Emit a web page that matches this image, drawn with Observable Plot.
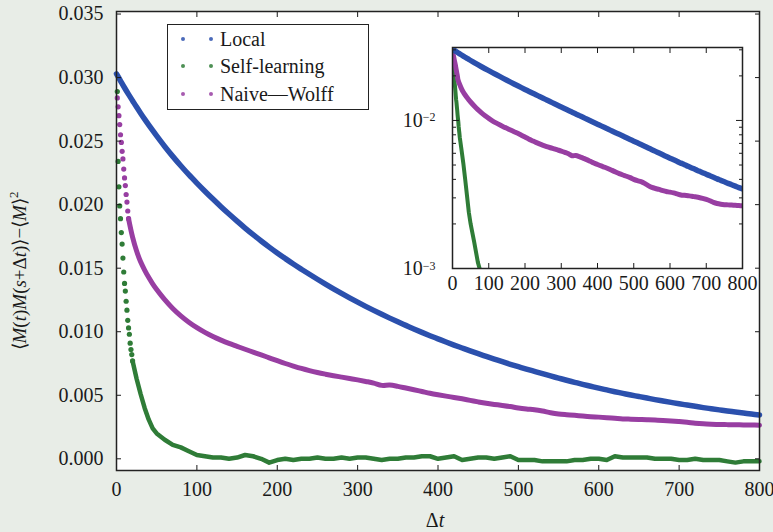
<!DOCTYPE html>
<html><head><meta charset="utf-8">
<script src="https://cdn.jsdelivr.net/npm/d3@7"></script>
<script src="https://cdn.jsdelivr.net/npm/@observablehq/plot@0.6"></script>
<style>
body{margin:0;background:#e8ede7;}
#wrap{position:relative;width:773px;height:532px;color:#1a1a1a;}
#main,#inset{position:absolute;}
#legend{position:absolute;left:167px;top:24px;width:200px;height:84px;border:1.5px solid #222;background:#fff;}
.lrow{position:absolute;left:0;height:26px;line-height:26px;font-size:20px;}
.ldot{position:absolute;width:4px;height:4px;border-radius:50%;top:11px;}
.ltxt{position:absolute;left:52px;top:0;white-space:nowrap;}
#wrap, #wrap *, #wrap svg text, #wrap svg tspan{font-family:"Liberation Serif" !important;}
</style></head><body><div id="wrap"><div id="main"></div><div id="inset"></div><div id="legend"></div></div>
<script>
// ---- data ----
const seriesNames = ["Local", "Self-learning", "Naive—Wolff"];
const seriesColors = ["#2b50ad", "#2f7c37", "#983ea2"];

const xTicks = [0, 100, 200, 300, 400, 500, 600, 700, 800];
const yTicks = [0, 0.005, 0.010, 0.015, 0.020, 0.025, 0.030, 0.035];
const insetYMajor = [0.001, 0.01];
const insetYMajorLabels = ["10", "10"];
const insetYMajorExp = ["−3", "−2"];
const insetYMinor = [0.002, 0.003, 0.004, 0.005, 0.006, 0.007, 0.008, 0.009, 0.02, 0.03];

// sparse early points (individual dots)
const tEarly = [1,2,3,4,5,6,7,8,9,10,11,12,13,14,15,16,17,18,19,20];
const selfEarly = [0.0289,0.0234,0.0214,0.0199,0.0189,0.0178,0.0169,0.0158,0.0147,0.0138,0.0132,0.0124,0.0117,0.0109,0.0103,0.0098,0.0091,0.0086,0.0082,0.0077];
const wolffEarly = [0.0284,0.0277,0.0270,0.0263,0.0255,0.0249,0.0242,0.0236,0.0228,0.0221,0.0215,0.0208,0.0202,0.0195,0.0189,null,null,null,null,null];

// dense part (drawn as a thick trace)
const tDense = [0,5,10,15,20,25,30,35,40,45,50,60,70,80,90,100,110,120,130,140,150,160,170,180,190,200,
  210,220,230,240,250,260,270,280,290,300,310,320,330,340,350,360,370,380,390,400,
  410,420,430,440,450,460,470,480,490,500,510,520,530,540,550,560,570,580,590,600,
  610,620,630,640,650,660,670,680,690,700,710,720,730,740,750,760,770,780,790,800];
const localDense = [0.03030,0.02975,0.02920,0.02868,0.02818,0.02768,0.02720,0.02673,0.02628,0.02584,0.02541,0.02458,0.02380,0.02306,0.02236,0.02170,0.02106,0.02044,0.01984,0.01926,0.01870,0.01816,0.01764,0.01714,0.01666,0.01620,
  0.01576,0.01533,0.01492,0.01452,0.01413,0.01375,0.01338,0.01302,0.01267,0.01233,0.01200,0.01168,0.01137,0.01107,0.01078,0.01050,0.01022,0.00995,0.00969,0.00944,
  0.00919,0.00895,0.00872,0.00849,0.00827,0.00806,0.00785,0.00764,0.00744,0.00725,0.00706,0.00688,0.00670,0.00652,0.00635,0.00618,0.00602,0.00586,0.00571,0.00556,
  0.00542,0.00528,0.00515,0.00502,0.00490,0.00478,0.00466,0.00455,0.00444,0.00433,0.00423,0.00413,0.00403,0.00394,0.00385,0.00376,0.00368,0.00360,0.00352,0.00345];
const selfDense = [null,null,null,null,0.0077,0.0063,0.0051,0.0040,0.0031,0.0024,0.0020,0.0015,0.0011,0.0009,0.0006,0.0003,0.0002,0.0001,0.0001,0.0000,0.0001,0.0003,0.0002,0.0000,-0.0003,-0.0001,
  0.0000,-0.0001,0.0000,0.0000,0.0001,0.0000,0.0000,0.0001,0.0000,0.0001,0.0001,0.0000,-0.0001,0.0000,0.0000,0.0001,0.0001,0.0002,0.0002,0.0000,
  0.0001,0.0002,-0.0001,0.0000,0.0001,0.0001,0.0000,0.0001,0.0002,-0.0001,-0.0001,-0.0001,-0.0002,-0.0002,-0.0002,-0.0002,-0.0001,-0.0001,0.0000,0.0000,
  -0.0001,0.0002,0.0001,0.0001,0.0001,0.0001,0.0000,0.0000,0.0000,-0.0001,-0.0001,0.0000,-0.0001,-0.0001,-0.0001,-0.0002,-0.0003,-0.0002,-0.0002,-0.0002];
const wolffDense = [null,null,null,0.01890,0.01745,0.01635,0.01550,0.01485,0.01428,0.01377,0.01332,0.01252,0.01183,0.01125,0.01075,0.01032,0.00995,0.00963,0.00934,0.00908,0.00885,0.00862,0.00840,0.00818,0.00795,0.00772,
  0.00750,0.00730,0.00711,0.00694,0.00679,0.00666,0.00654,0.00643,0.00632,0.00621,0.00609,0.00596,0.00578,0.00580,0.00570,0.00557,0.00544,0.00530,0.00516,0.00504,
  0.00493,0.00483,0.00472,0.00460,0.00448,0.00437,0.00428,0.00420,0.00411,0.00400,0.00392,0.00386,0.00376,0.00363,0.00353,0.00347,0.00342,0.00336,0.00331,0.00328,
  0.00324,0.00319,0.00314,0.00312,0.00310,0.00308,0.00305,0.00302,0.00298,0.00293,0.00287,0.00280,0.00275,0.00272,0.00270,0.00269,0.00268,0.00267,0.00266,0.00265];

// ---- tables ----
const rows = (ts, vs, s) => ts.map((t, i) => ({t, v: vs[i], s})).filter(d => d.v != null);
const localD = rows(tDense, localDense, seriesNames[0]);
const selfD = rows(tDense, selfDense, seriesNames[1]);
const wolffD = rows(tDense, wolffDense, seriesNames[2]);
const selfE = rows(tEarly, selfEarly, seriesNames[1]);
const wolffE = rows(tEarly, wolffEarly, seriesNames[2]);
const color = {domain: seriesNames, range: seriesColors};
const serif = "Liberation Serif";
const font = {fontFamily: serif, fontSize: "20px", background: "transparent", color: "#1a1a1a", overflow: "visible"};
const blank = () => "";

const main = Plot.plot({
  width: 773, height: 532,
  marginLeft: 116, marginRight: 14, marginTop: 11, marginBottom: 62,
  x: {domain: [0, 800]},
  y: {domain: [-0.00092, 0.0352]},
  color,
  style: font,
  marks: [
    Plot.frame({fill: "white", stroke: null}),
    Plot.line(wolffD, {x: "t", y: "v", stroke: "s", strokeWidth: 5, curve: "catmull-rom"}),
    Plot.line(localD, {x: "t", y: "v", stroke: "s", strokeWidth: 5.5, curve: "catmull-rom"}),
    Plot.line(selfD, {x: "t", y: "v", stroke: "s", strokeWidth: 4.5}),
    Plot.dot(wolffE, {x: "t", y: "v", fill: "s", r: 2.6}),
    Plot.dot(selfE, {x: "t", y: "v", fill: "s", r: 2.6}),
    Plot.axisX({ticks: xTicks, tickSize: -5, tickPadding: 16, label: null, fontFamily: serif}),
    Plot.axisX({anchor: "top", ticks: xTicks, tickSize: -5, tickFormat: blank, label: null}),
    Plot.axisY({ticks: yTicks, tickSize: -5, tickPadding: 18, tickFormat: d3.format(".3f"), label: null, fontFamily: serif}),
    Plot.axisY({anchor: "right", ticks: yTicks, tickSize: -5, tickFormat: blank, label: null}),
    Plot.frame({stroke: "#222", strokeWidth: 1.5})
  ]
});
document.getElementById("main").appendChild(main);

// axis titles with italics
const ms = d3.select(main);
const yl = ms.append("text").attr("transform", "translate(26,271) rotate(-90)")
  .attr("text-anchor", "middle").attr("fill", "#1a1a1a")
  .attr("font-family", serif).style("font-size", "19px");
[["⟨", 0], ["M", 1], ["(", 0], ["t", 1], [")", 0], ["M", 1], ["(", 0], ["s", 1], ["+Δ", 0], ["t", 1], [")⟩−⟨", 0], ["M", 1], ["⟩", 0]]
  .forEach(([s, it]) => yl.append("tspan").style("font-style", it ? "italic" : "normal").text(s));
yl.append("tspan").attr("dy", -8).style("font-size", "13px").text("2");

const xl = ms.append("text").attr("x", 435).attr("y", 527).attr("text-anchor", "middle").attr("fill", "#1a1a1a")
  .attr("font-family", serif).style("font-size", "20px");
xl.append("tspan").text("Δ");
xl.append("tspan").style("font-style", "italic").text("t");

// ---- inset (log scale) ----
const inset = Plot.plot({
  width: 380, height: 290,
  marginLeft: 72, marginRight: 18, marginTop: 27, marginBottom: 42,
  x: {domain: [0, 800]},
  y: {type: "log", domain: [0.001, 0.0311]},
  color,
  style: font,
  marks: [
    Plot.frame({fill: "white", stroke: null}),
    Plot.line(selfE.concat(selfD.filter(d => d.t > 20)).filter(d => d.v > 0), {x: "t", y: "v", stroke: "s", strokeWidth: 4, clip: true}),
    Plot.line(wolffE.concat(wolffD.filter(d => d.t > 15)), {x: "t", y: "v", stroke: "s", strokeWidth: 5, curve: "catmull-rom", clip: true}),
    Plot.line(localD, {x: "t", y: "v", stroke: "s", strokeWidth: 5.5, curve: "catmull-rom", clip: true}),
    Plot.axisX({ticks: xTicks, tickSize: -5, tickPadding: 12, label: null, fontFamily: serif}),
    Plot.axisX({anchor: "top", ticks: xTicks, tickSize: -5, tickFormat: blank, label: null}),
    Plot.axisY({ticks: insetYMajor, tickSize: -7, tickPadding: 24, tickFormat: d => insetYMajorLabels[insetYMajor.indexOf(d)], label: null, fontFamily: serif}),
    Plot.axisY({ticks: insetYMinor, tickSize: -4, tickFormat: blank, label: null}),
    Plot.axisY({anchor: "right", ticks: insetYMajor, tickSize: -7, tickFormat: blank, label: null}),
    Plot.axisY({anchor: "right", ticks: insetYMinor, tickSize: -4, tickFormat: blank, label: null}),
    Plot.frame({stroke: "#222", strokeWidth: 1.5})
  ]
});
const insetDiv = document.getElementById("inset");
insetDiv.style.left = "380px"; insetDiv.style.top = "20px";
insetDiv.appendChild(inset);
// superscript exponents on the log labels
d3.select(inset).selectAll("text")
  .filter(function() { return d3.select(this).text() === "10"; })
  .each(function(_, i) {
    d3.select(this).append("tspan").attr("dy", "-0.45em").style("font-size", "12px").text(insetYMajorExp[i]);
  });

// force the serif face on every text node
d3.selectAll("svg, svg text, svg tspan").attr("font-family", serif).style("font-family", "'Liberation Serif'", "important");

// ---- legend ----
const legend = d3.select("#legend");
const rowTops = [1, 28, 56];
seriesNames.forEach((name, i) => {
  const row = legend.append("div").attr("class", "lrow").style("top", rowTops[i] + "px");
  row.append("div").attr("class", "ldot").style("left", "13px").style("background", seriesColors[i]).style("opacity", 0.85);
  row.append("div").attr("class", "ldot").style("left", "41px").style("background", seriesColors[i]).style("opacity", 0.85);
  row.append("div").attr("class", "ltxt").style("font-family", "'Liberation Serif'", "important").style("font-size", "20px").text(name);
});
</script></body></html>
